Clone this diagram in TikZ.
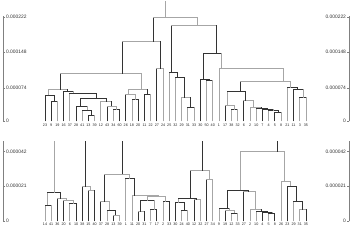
\documentclass[tikz,border=0pt]{standalone}
\usepackage{fontspec}
\setmainfont{Liberation Sans}
\newcommand\J[8]{\draw[#1] (#4,#5)--(#4,#8); \draw[#2] (#4,#8)--(#6,#8); \draw[#3] (#6,#8)--(#6,#7);}
\begin{document}
\begin{tikzpicture}[x=1pt,y=-1pt,line width=0.9pt,line cap=rect]
\useasboundingbox (0,0) rectangle (352,241);
\tikzset{dk/.style={draw=black!80}, gy/.style={draw=black!35},
 axc/.style={draw=black!50,line width=0.6pt},
 lab/.style={font=\fontsize{3.7}{4}\selectfont,inner sep=0pt,anchor=north,text=black!85},
 axl/.style={font=\fontsize{4.9}{5}\selectfont,inner sep=0pt,text=black!80}}
% ---------- axes ----------
\draw[axc] (3,16.7)--(3,121); \draw[axc] (349,16.7)--(349,121);
\foreach \v/\y [count=\k] in {0.000222/17.3,0.000148/52.3,0.000074/88,0/121}{
  \draw[axc] (3,\y)--(5,\y); \draw[axc] (347,\y)--(349,\y);
  \node[axl,anchor=west] (al\k) at (5.6,\y) {\v};
  \node[axl,anchor=east] (ar\k) at (346.4,\y) {\v};}
\draw[axc] (3,141.7)--(3,221); \draw[axc] (349,141.7)--(349,221);
\foreach \v/\y [count=\k] in {0.000042/151.7,0.000021/186,0/221}{
  \draw[axc] (3,\y)--(5,\y); \draw[axc] (347,\y)--(349,\y);
  \node[axl,anchor=west] (bl\k) at (5.6,\y) {\v};
  \node[axl,anchor=east] (br\k) at (346.4,\y) {\v};}
% ---------- leaf labels ----------
\foreach \t [count=\i] in {23,9,19,16,37,28,41,13,39,12,43,34,60,26,18,20,11,22,27,24,25,32,29,31,33,30,50,40,1,17,38,32,6,2,10,7,4,5,8,21,11,3,35}
  \node[lab] (ta\i) at ({45+(\i-1)*6.214},123.2) {\t};
\foreach \t [count=\i] in {14,41,36,20,6,10,38,15,40,37,28,13,39,1,11,20,31,7,17,2,33,30,24,40,12,32,27,34,9,19,12,33,27,2,10,4,5,8,26,23,29,31,35}
  \node[lab] (tb\i) at ({45+(\i-1)*6.214},222.6) {\t};
% ---------- top dendrogram ----------
\def\B{121}
\J{dk}{dk}{gy}{51.2}{\B}{57.4}{\B}{101}
\J{dk}{dk}{dk}{45}{\B}{54.3}{101}{95}
\J{dk}{dk}{gy}{88.5}{\B}{94.7}{\B}{115}
\J{gy}{dk}{dk}{82.3}{\B}{91.6}{115}{110}
\J{dk}{dk}{gy}{76.1}{\B}{87}{110}{106}
\J{gy}{dk}{dk}{113.4}{\B}{119.6}{\B}{109.3}
\J{dk}{gy}{gy}{107.1}{\B}{116.5}{109.3}{106}
\J{gy}{gy}{dk}{100.9}{\B}{111.8}{106}{101.7}
\J{dk}{dk}{dk}{80}{106}{106}{101.7}{98.3}
\J{gy}{dk}{dk}{69.9}{\B}{96}{98.3}{93}
\J{dk}{dk}{gy}{63.6}{\B}{73}{93}{91}
\J{gy}{gy}{dk}{48}{95}{67}{91}{89.3}
\J{gy}{dk}{dk}{132}{\B}{138.2}{\B}{99.3}
\J{dk}{gy}{gy}{125.8}{\B}{135}{99.3}{94}
\J{dk}{dk}{gy}{144.4}{\B}{150.6}{\B}{94.5}
\J{gy}{gy}{dk}{128.3}{94}{147.6}{94.5}{89.3}
\J{dk}{gy}{gy}{60.5}{89.3}{141}{89.3}{73.3}
\J{dk}{gy}{gy}{156.9}{\B}{163.1}{\B}{68.3}
\J{dk}{gy}{dk}{122.3}{73.3}{160}{68.3}{41.7}
\J{gy}{dk}{gy}{187.9}{\B}{194.1}{\B}{107.7}
\J{gy}{gy}{dk}{181.7}{\B}{190}{107.7}{97.3}
\J{gy}{dk}{dk}{175.5}{\B}{184}{97.3}{77.3}
\J{gy}{dk}{dk}{169.3}{\B}{177}{77.3}{72.7}
\J{gy}{dk}{gy}{206.6}{\B}{212.8}{\B}{80.7}
\J{dk}{dk}{dk}{200.4}{\B}{209.7}{80.7}{79.3}
\J{gy}{dk}{gy}{231.4}{\B}{237.6}{\B}{109.3}
\J{dk}{gy}{gy}{225.2}{\B}{234}{109.3}{105}
\J{dk}{dk}{gy}{274.9}{\B}{281.1}{\B}{112}
\J{gy}{dk}{dk}{268.7}{\B}{278}{112}{110.7}
\J{dk}{dk}{gy}{262.5}{\B}{273}{110.7}{109.7}
\J{gy}{dk}{dk}{256.3}{\B}{267.5}{109.7}{108.3}
\J{gy}{gy}{dk}{250.1}{\B}{261.7}{108.3}{107.3}
\J{dk}{gy}{gy}{243.9}{\B}{253}{107.3}{100.3}
\J{gy}{dk}{dk}{227.3}{105}{245}{100.3}{91.7}
\J{gy}{dk}{gy}{299.8}{\B}{306}{\B}{97.3}
\J{dk}{dk}{gy}{293.6}{\B}{303}{97.3}{89.3}
\J{gy}{dk}{dk}{287.4}{\B}{297}{89.3}{87.3}
\J{dk}{gy}{gy}{240}{91.7}{290}{87.3}{81.7}
\J{gy}{gy}{gy}{219}{\B}{283.3}{81.7}{68.3}
\J{dk}{dk}{gy}{203.3}{79.3}{221.7}{68.3}{53.3}
\J{dk}{gy}{dk}{171.7}{72.7}{216}{53.3}{25}
\J{dk}{gy}{gy}{153.3}{41.7}{197.3}{25}{17.3}
\draw[gy] (165.7,17.3)--(165.7,1.5);
% ---------- bottom dendrogram ----------
\def\B{221}
\J{gy}{dk}{gy}{45}{\B}{51.2}{\B}{205}
\J{gy}{dk}{dk}{69.9}{\B}{76.1}{\B}{203.3}
\J{dk}{gy}{gy}{63.6}{\B}{73}{203.3}{200}
\J{dk}{gy}{gy}{57.4}{\B}{66.7}{200}{198.3}
\J{gy}{dk}{dk}{47}{205}{60}{198.3}{192.7}
\draw[gy] (54,192.7)--(54,141.7);
\J{dk}{gy}{dk}{88.5}{\B}{94.7}{\B}{190.3}
\J{dk}{gy}{gy}{82.3}{\B}{90.5}{190.3}{186.7}
\draw[dk] (85.7,186.7)--(85.7,141.7);
\J{dk}{gy}{gy}{113.4}{\B}{119.6}{\B}{215}
\J{gy}{dk}{dk}{107.1}{\B}{115.5}{215}{210}
\J{dk}{gy}{gy}{100.9}{\B}{109.3}{210}{201.7}
\J{dk}{gy}{dk}{138.2}{\B}{144.4}{\B}{211.7}
\J{gy}{dk}{dk}{150.6}{\B}{156.9}{\B}{209.3}
\J{dk}{dk}{gy}{140.5}{211.7}{154}{209.3}{200.7}
\J{gy}{dk}{dk}{163.1}{\B}{169.3}{\B}{201.7}
\J{gy}{gy}{gy}{147.7}{200.7}{165.5}{201.7}{196.7}
\J{gy}{gy}{gy}{132}{\B}{158}{196.7}{195.3}
\J{gy}{dk}{dk}{125.8}{\B}{134}{195.3}{178.3}
\J{dk}{gy}{gy}{104}{201.7}{129.3}{178.3}{174}
\draw[dk] (122.7,174)--(122.7,141.7);
\J{gy}{dk}{gy}{181.7}{\B}{187.9}{\B}{210}
\J{dk}{dk}{dk}{175.5}{\B}{184}{210}{202.7}
\J{dk}{gy}{gy}{194.1}{\B}{200.4}{\B}{199.3}
\J{gy}{dk}{dk}{178.3}{202.7}{196.7}{199.3}{198.3}
\J{dk}{gy}{gy}{206.6}{\B}{212.8}{\B}{179.3}
\J{dk}{gy}{gy}{190.7}{198.3}{209.3}{179.3}{170.7}
\draw[dk] (202.7,170.7)--(202.7,141.7);
\J{gy}{dk}{gy}{231.4}{\B}{237.6}{\B}{213}
\J{dk}{gy}{gy}{225.2}{\B}{234.5}{213}{210.7}
\J{gy}{dk}{gy}{219}{\B}{229.3}{210.7}{208.3}
\J{gy}{dk}{dk}{268.7}{\B}{274.9}{\B}{213}
\J{dk}{dk}{gy}{262.5}{\B}{272}{213}{212}
\J{gy}{dk}{dk}{256.3}{\B}{267}{212}{211}
\J{gy}{gy}{dk}{250.1}{\B}{261}{211}{209.3}
\J{dk}{gy}{gy}{243.9}{\B}{255}{209.3}{191.7}
\J{dk}{dk}{dk}{227}{208.3}{248}{191.7}{190}
\J{gy}{gy}{dk}{299.8}{\B}{306}{\B}{209.3}
\J{gy}{dk}{dk}{293.6}{\B}{302.7}{209.3}{201.7}
\J{dk}{dk}{dk}{287.4}{\B}{296.7}{201.7}{186}
\J{gy}{gy}{gy}{281.1}{\B}{290}{186}{181.7}
\J{gy}{gy}{gy}{240.7}{190}{284}{181.7}{151.7}
\draw[dk] (277.7,151.7)--(277.7,141.7);
\end{tikzpicture}
\end{document}
